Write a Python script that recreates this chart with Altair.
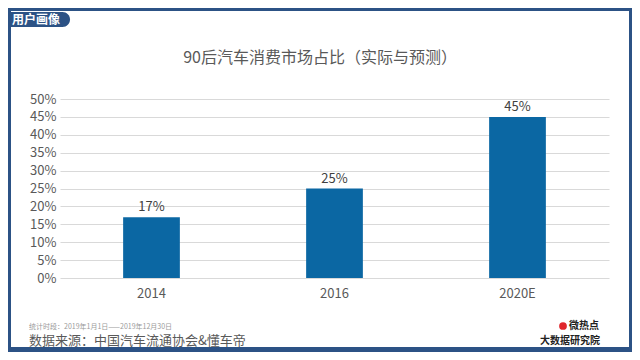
import altair as alt
import pandas as pd

# ---- data ----
years = ["2014", "2016", "2020E"]
shares = [0.17, 0.25, 0.45]
share_labels = ["17%", "25%", "45%"]
y_ticks = [0.0, 0.05, 0.1, 0.15, 0.2, 0.25, 0.3, 0.35, 0.4, 0.45, 0.5]

title_text = "90后汽车消费市场占比（实际与预测）"
tag_text = "用户画像"
period_text = "统计时段：2019年1月1日——2019年12月30日"
source_text = "数据来源：中国汽车流通协会&懂车帝"
logo_line1 = "微热点"
logo_line2 = "大数据研究院"

FONT = "Noto Sans CJK SC"
BLUE = "#2c5285"
BAR = "#0b67a3"
GRAY = "#595959"

df = pd.DataFrame({"year": years, "share": shares, "label": share_labels})
one = alt.Data(values=[{}])

W, H = 549, 179

x = alt.X("year:N", sort=years,
          scale=alt.Scale(paddingInner=0.69, paddingOuter=0.345),
          axis=alt.Axis(title=None, labelAngle=0, ticks=False, domain=False,
                        labelFontSize=13, labelColor=GRAY, labelFont=FONT,
                        labelPadding=9))
y = alt.Y("share:Q",
          scale=alt.Scale(domain=[0, 0.5], nice=False),
          axis=alt.Axis(title=None, format=".0%", values=y_ticks,
                        labelOverlap=False, labelFlush=False,
                        ticks=False, domain=False, grid=True, gridColor="#d9d9d9",
                        labelFontSize=13, labelColor=GRAY, labelFont=FONT,
                        labelPadding=4))

bars = alt.Chart(df).mark_bar(color=BAR).encode(x=x, y=y)
labels = alt.Chart(df).mark_text(dy=-10, fontSize=13, color="#404040", font=FONT).encode(
    x=x, y=y, text="label:N")

def rect(x1, x2, y1, y2, color, **kw):
    return alt.Chart(one).mark_rect(color=color, **kw).encode(
        x=alt.value(x1), x2=alt.value(x2), y=alt.value(y1), y2=alt.value(y2))

def txt(s, xp, yp, size, color, align="left", weight="normal"):
    return alt.Chart(one).mark_text(text=s, fontSize=size, color=color, font=FONT,
                                    align=align, baseline="middle", fontWeight=weight).encode(
        x=alt.value(xp), y=alt.value(yp))

frame = [
    rect(-52, 572, -91, -88, BLUE),
    rect(-52, -49, -91, 253, BLUE),
    rect(569, 572, -91, 253, BLUE),
    rect(-52, 572, 248, 253, BLUE),
]
pill = alt.Chart(one).mark_rect(color=BLUE, cornerRadiusTopRight=8,
                                cornerRadiusBottomRight=8).encode(
    x=alt.value(-52), x2=alt.value(10), y=alt.value(-87), y2=alt.value(-72))

logo_icon = alt.Chart(one).mark_point(filled=True, color="#e0262b", size=60, shape="circle",
                                      opacity=1).encode(
    x=alt.value(503), y=alt.value(227))

decor = frame + [
    pill,
    txt(tag_text, -48, -79, 12, "white", weight="bold"),
    txt(title_text, 260, -41, 16, GRAY, align="center"),
    txt(period_text, -31, 228, 7, "#9a9a9a"),
    txt(source_text, -31, 242, 13, GRAY),
    logo_icon,
    txt(logo_line1, 509, 227, 10, "#222222", weight="bold"),
    txt(logo_line2, 540, 242, 10, "#222222", align="right", weight="bold"),
]

chart = alt.layer(bars, labels, *decor).properties(
    width=W, height=H,
    padding={"left": 52, "top": 91, "right": 23, "bottom": 74},
    autosize=alt.AutoSizeParams(type="none"),
    background="white",
).configure_view(stroke=None)

chart.save("out.html", embed_options={"renderer": "svg", "actions": False})
